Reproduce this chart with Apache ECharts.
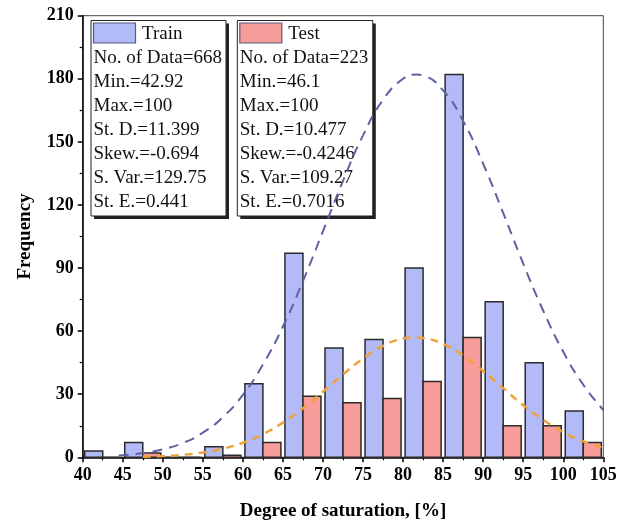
<!DOCTYPE html>
<html>
<head>
<meta charset="utf-8">
<script src="https://cdn.jsdelivr.net/npm/echarts@6/dist/echarts.min.js"></script>
<style>
  html, body { margin: 0; padding: 0; background: #fff; }
  #chart { width: 632px; height: 526px; }
</style>
</head>
<body>
<div id="chart"></div>
<script>
// Histogram bins (left edge of each 5-unit bin)
const binStarts = [40, 45, 50, 55, 60, 65, 70, 75, 80, 85, 90, 95, 100];
const trainCounts = [3, 7, 0, 5, 35, 97, 52, 56, 90, 182, 74, 45, 22];
const testCounts  = [0, 2, 0, 1, 7, 29, 26, 28, 36, 57, 15, 15, 7];

// Fitted normal curves, sampled points [x, frequency]
const trainCurveX = [44.5, 47.5, 50, 52.5, 55, 57.5, 60, 62.5, 65, 67.5, 70, 72.5, 75, 77.5, 80, 81.7, 82.5, 85, 87.5, 90, 92.5, 95, 97.5, 100, 102.5, 105];
const trainCurveY = [0.8, 2.0, 3.8, 6.8, 11.7, 19.1, 29.7, 44.1, 62.2, 83.8, 107.5, 131.4, 153.1, 170.0, 180.0, 182.0, 181.6, 174.5, 159.9, 139.6, 116.2, 92.1, 69.7, 50.2, 34.5, 22.5];
const testCurveX = [47.5, 50, 52.5, 55, 57.5, 60, 62.5, 65, 67.5, 70, 72.5, 75, 77.5, 80, 81.5, 82.5, 85, 87.5, 90, 92.5, 95, 97.5, 100, 102.5, 105];
const testCurveY = [0.3, 0.6, 1.2, 2.3, 4.1, 6.9, 11.0, 16.5, 23.3, 31.2, 39.4, 47.0, 53.0, 56.4, 57.0, 56.7, 53.9, 48.4, 41.0, 32.9, 24.8, 17.8, 12.0, 7.6, 4.6];

// Descriptive statistics shown in the two legend boxes
const trainStats = ['No. of Data=668', 'Min.=42.92', 'Max.=100', 'St. D.=11.399', 'Skew.=-0.694', 'S. Var.=129.75', 'St. E.=0.441'];
const testStats  = ['No. of Data=223', 'Min.=46.1', 'Max.=100', 'St. D.=10.477', 'Skew.=-0.4246', 'S. Var.=109.27', 'St. E.=0.7016'];

const TRAIN_FILL = '#b2baf7';
const TEST_FILL = '#f89b9b';
const SERIF = "'Liberation Serif', 'Times New Roman', serif";

function zip(xs, ys) { return xs.map((x, i) => [x, ys[i]]); }

function barSeries(name, counts, offset0, offset1, fill) {
  return {
    name: name,
    type: 'custom',
    z: 2,
    data: binStarts.map((b, i) => [b, counts[i]]),
    renderItem: function (params, api) {
      const b = api.value(0);
      const v = api.value(1);
      const p0 = api.coord([b + offset0, v]);
      const p1 = api.coord([b + offset1, 0]);
      return {
        type: 'rect',
        shape: { x: p0[0], y: p0[1], width: p1[0] - p0[0], height: p1[1] - p0[1] },
        style: { fill: fill, stroke: '#2b2b2b', lineWidth: 1.5 }
      };
    }
  };
}

function statsBox(x, y, w, h, title, swatchFill, lines) {
  const children = [
    { type: 'rect', shape: { x: x + 3, y: y + 3, width: w, height: h }, style: { fill: '#222' } },
    { type: 'rect', shape: { x: x, y: y, width: w, height: h }, style: { fill: '#fff', stroke: '#222', lineWidth: 1 } },
    { type: 'rect', shape: { x: x + 2.5, y: y + 2.5, width: 42, height: 20 }, style: { fill: swatchFill, stroke: '#555a80', lineWidth: 1.2 } },
    { type: 'text', x: x + 51, y: y + 13.5, style: { text: title, font: '19px ' + SERIF, fill: '#111', verticalAlign: 'middle' } }
  ];
  lines.forEach((t, i) => {
    children.push({
      type: 'text', x: x + 2.5, y: y + 38 + i * 24,
      style: { text: t, font: '19px ' + SERIF, fill: '#111', verticalAlign: 'middle' }
    });
  });
  return { type: 'group', z: 100, children: children };
}

const chart = echarts.init(document.getElementById('chart'), null, { renderer: 'canvas' });

chart.setOption({
  animation: false,
  backgroundColor: '#fff',
  grid: { left: 82.7, right: 28.7, top: 15.7, bottom: 68.7, show: true, borderColor: '#444', borderWidth: 1 },
  xAxis: {
    type: 'value', min: 40, max: 105, interval: 5,
    name: 'Degree of saturation, [%]', nameLocation: 'middle', nameGap: 44,
    nameTextStyle: { fontFamily: SERIF, fontWeight: 'bold', fontSize: 19, color: '#000' },
    axisLine: { lineStyle: { color: '#000', width: 1.5 } },
    axisTick: { inside: false, length: 5, lineStyle: { color: '#000', width: 1.5 } },
    minorTick: { show: true, splitNumber: 2, length: 3, lineStyle: { color: '#000', width: 1.2 } },
    axisLabel: { fontFamily: SERIF, fontWeight: 'bold', fontSize: 18, color: '#000', margin: 9 },
    splitLine: { show: false }
  },
  yAxis: {
    type: 'value', min: 0, max: 210, interval: 30,
    name: 'Frequency', nameLocation: 'middle', nameGap: 48,
    nameTextStyle: { fontFamily: SERIF, fontWeight: 'bold', fontSize: 19, color: '#000' },
    axisLine: { show: true, lineStyle: { color: '#000', width: 1.5 } },
    axisTick: { show: true, inside: false, length: 5, lineStyle: { color: '#000', width: 1.5 } },
    minorTick: { show: true, splitNumber: 2, length: 3, lineStyle: { color: '#000', width: 1.2 } },
    axisLabel: { fontFamily: SERIF, fontWeight: 'bold', fontSize: 18, color: '#000', margin: 9 },
    splitLine: { show: false }
  },
  series: [
    barSeries('Train', trainCounts, 0.25, 2.5, TRAIN_FILL),
    barSeries('Test', testCounts, 2.5, 4.75, TEST_FILL),
    {
      name: 'Train fit', type: 'line', z: 5, smooth: true, symbol: 'none',
      data: zip(trainCurveX, trainCurveY),
      lineStyle: { color: '#5d62a0', width: 2, type: [10, 7] }
    },
    {
      name: 'Test fit', type: 'line', z: 5, smooth: true, symbol: 'none',
      data: zip(testCurveX, testCurveY),
      lineStyle: { color: '#f0a23a', width: 2.5, type: [8, 6] }
    }
  ],
  graphic: [
    statsBox(91, 20.5, 135, 195.5, 'Train', TRAIN_FILL, trainStats),
    statsBox(237.3, 20.5, 135.5, 195.5, 'Test', TEST_FILL, testStats)
  ]
});
</script>
</body>
</html>
